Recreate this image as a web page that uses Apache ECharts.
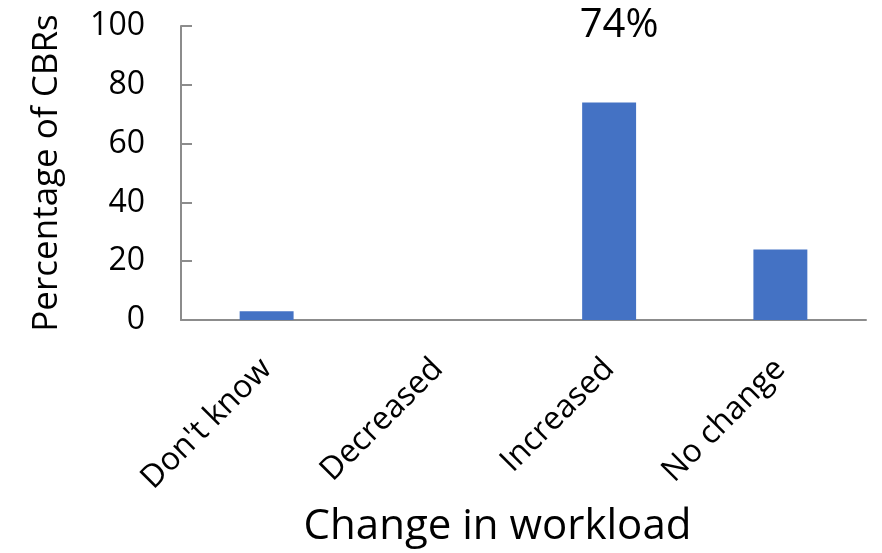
<!DOCTYPE html>
<html><head><meta charset="utf-8">
<script src="https://cdn.jsdelivr.net/npm/echarts@6/dist/echarts.min.js"></script>
<style>html,body{margin:0;padding:0;background:#fff}#c{width:882px;height:553px}</style>
</head><body><div id="c"></div>
<script>
const categories = ["Don't know", "Decreased", "Increased", "No change"];
const values = [3, 0, 74, 24];
const labelledIndex = 2;
const yTicks = { min: 0, max: 100, interval: 20 };

const chart = echarts.init(document.getElementById('c'), null, {renderer: 'canvas'});
const font = 'Open Sans';
chart.setOption({
  animation: false,
  grid: { left: 181, right: 16, top: 26, bottom: 231, containLabel: false },
  xAxis: {
    type: 'category',
    data: categories,
    name: 'Change in workload',
    nameLocation: 'middle',
    nameGap: 186,
    nameTextStyle: { fontFamily: font, fontSize: 42, color: '#000', padding: [0, 52, 0, 0] },
    axisLine: { lineStyle: { color: '#8c8c8c', width: 2 } },
    axisTick: { show: false },
    axisLabel: { rotate: 45, margin: 44, fontFamily: font, fontSize: 32, color: '#000', interval: 0 }
  },
  yAxis: {
    type: 'value',
    min: yTicks.min, max: yTicks.max, interval: yTicks.interval,
    name: 'Percentage of CBRs',
    nameLocation: 'middle',
    nameGap: 116,
    nameTextStyle: { fontFamily: font, fontSize: 35, color: '#000' },
    axisLine: { show: true, lineStyle: { color: '#8c8c8c', width: 2 } },
    axisTick: { show: true, inside: true, length: 11, lineStyle: { color: '#8c8c8c', width: 2 } },
    splitLine: { show: false },
    axisLabel: { margin: 36, fontFamily: font, fontSize: 32, color: '#000' }
  },
  series: [{
    type: 'bar',
    data: values.map((v, i) => ({
      value: v,
      label: { show: i === labelledIndex }
    })),
    barWidth: '31.5%',
    itemStyle: { color: '#4472C4' },
    label: {
      position: 'top', distance: 57, offset: [10, 0],
      formatter: '{c}%', fontFamily: font, fontSize: 40, color: '#000'
    }
  }]
});
</script></body></html>
